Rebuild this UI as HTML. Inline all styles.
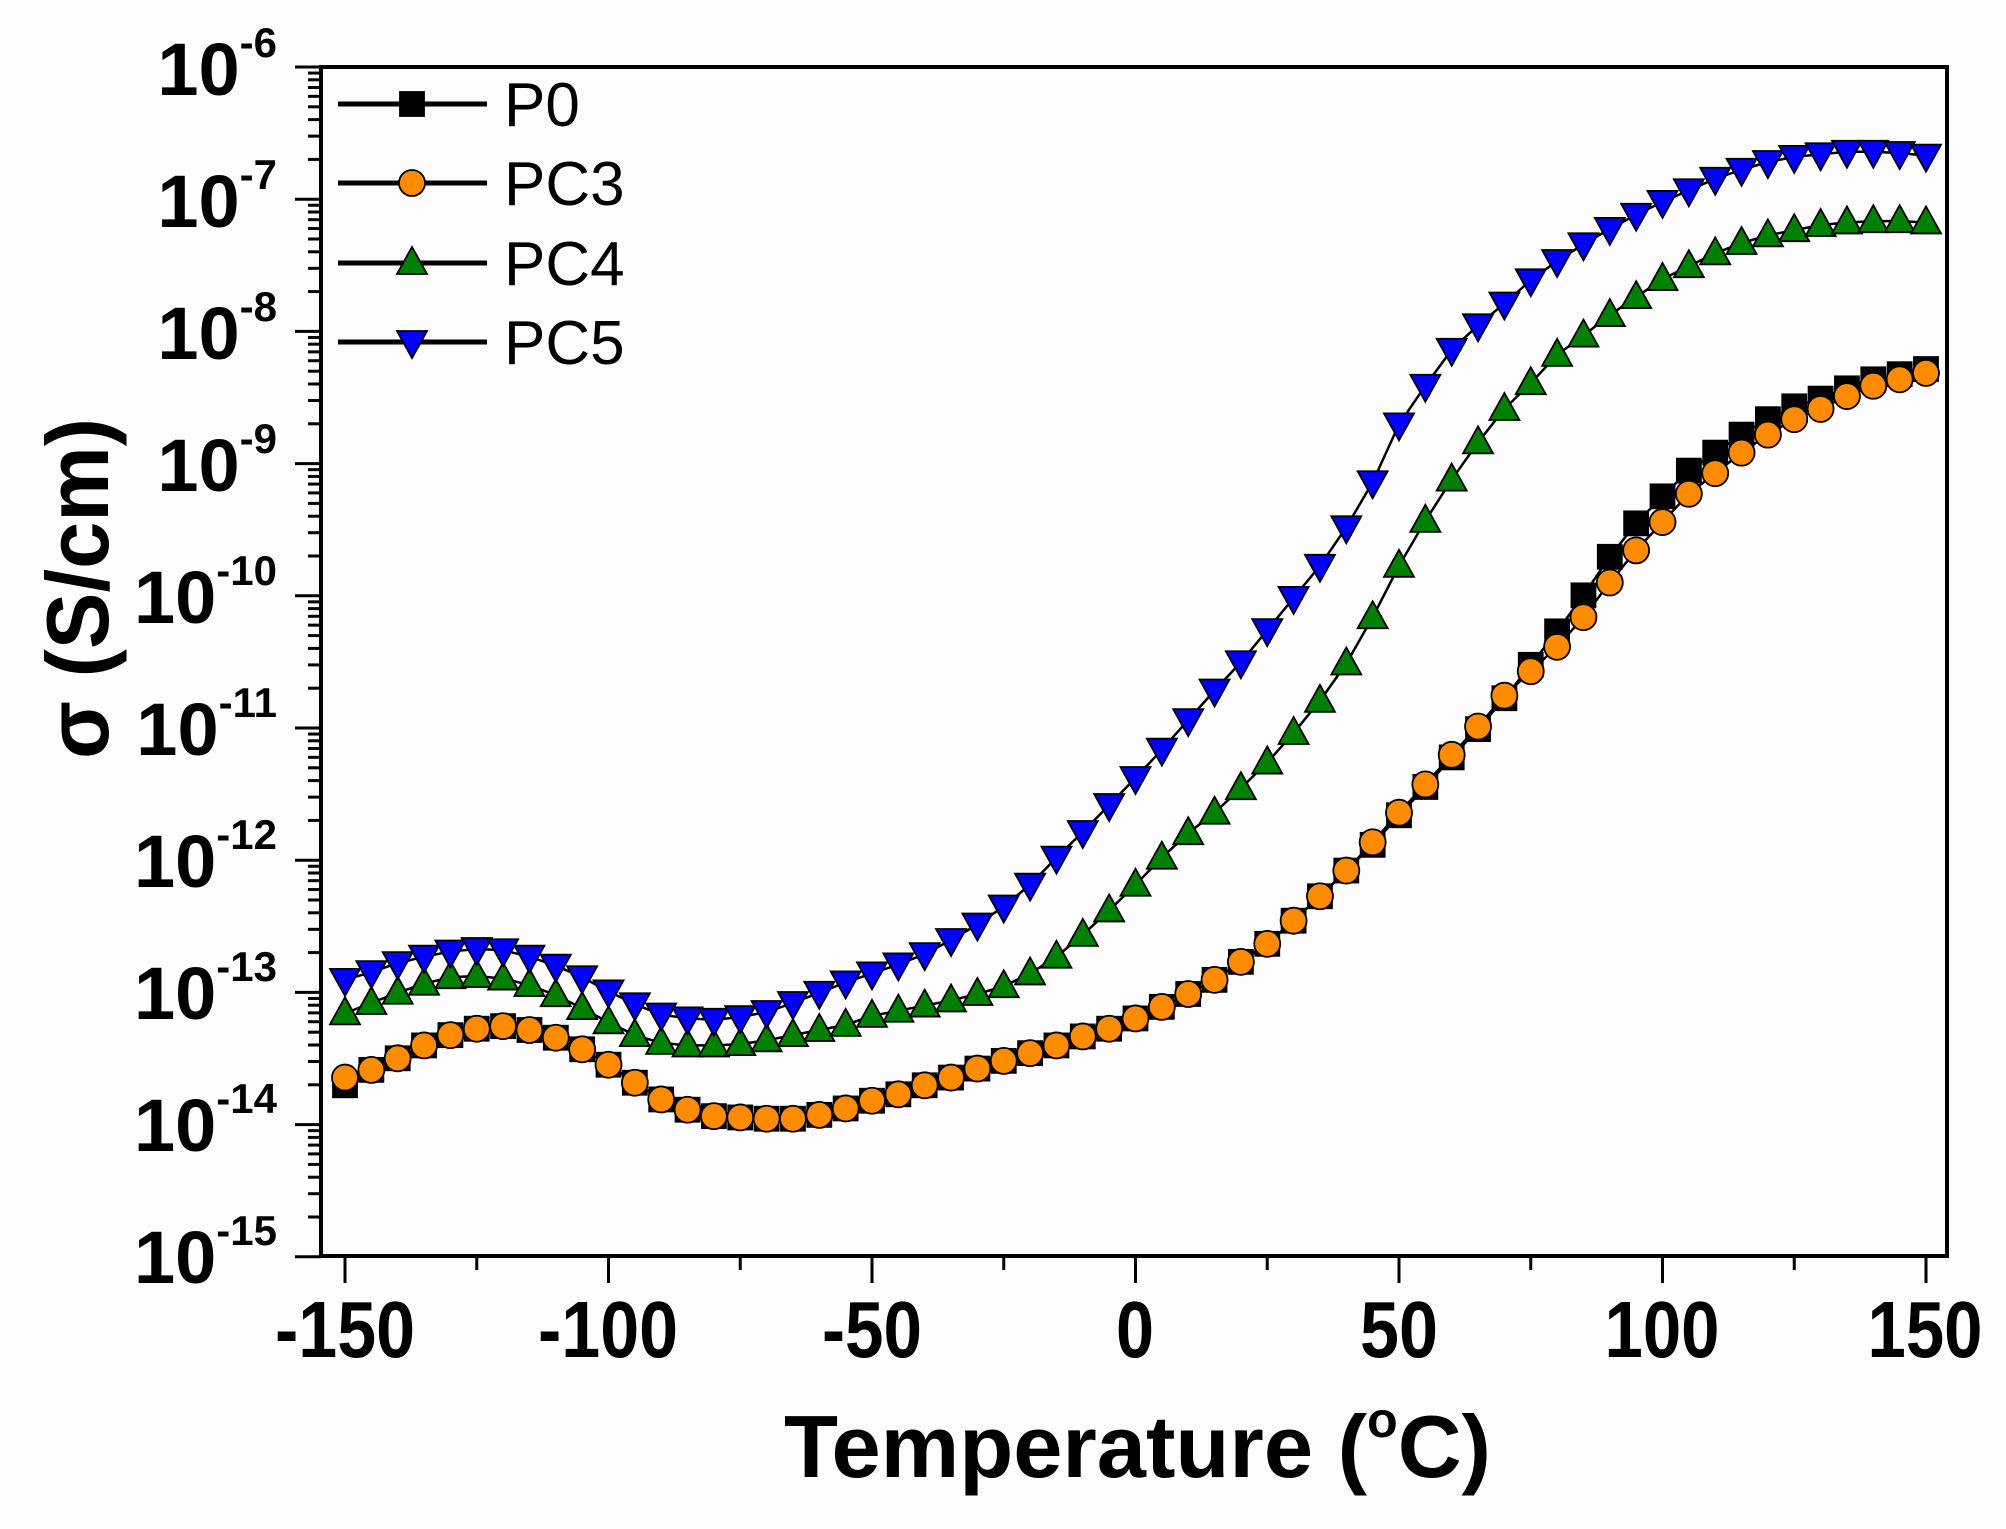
<!DOCTYPE html>
<html><head><meta charset="utf-8"><style>
html,body{margin:0;padding:0;background:#fdfdfd;}
svg{display:block;font-family:"Liberation Sans",Arial,sans-serif;}
</style></head><body>
<svg id="s" width="2006" height="1529" viewBox="0 0 2006 1529" xmlns="http://www.w3.org/2000/svg">
<rect width="2006" height="1529" fill="#fdfdfd"/>
<g id="ticks" stroke="#000" stroke-width="3"></g>
<g id="data"></g>
<rect x="321" y="67" width="1626" height="1189" fill="none" stroke="#000" stroke-width="4"/>
<g font-weight="bold" fill="#000" text-anchor="end">
<text x="277" y="95" font-size="74">10<tspan dy="-38" font-size="42">-6</tspan></text>
<text x="277" y="227" font-size="74">10<tspan dy="-38" font-size="42">-7</tspan></text>
<text x="277" y="359" font-size="74">10<tspan dy="-38" font-size="42">-8</tspan></text>
<text x="277" y="491" font-size="74">10<tspan dy="-38" font-size="42">-9</tspan></text>
<text x="277" y="623" font-size="74">10<tspan dy="-38" font-size="42">-10</tspan></text>
<text x="277" y="755" font-size="74">10<tspan dy="-38" font-size="42">-11</tspan></text>
<text x="277" y="887" font-size="74">10<tspan dy="-38" font-size="42">-12</tspan></text>
<text x="277" y="1019" font-size="74">10<tspan dy="-38" font-size="42">-13</tspan></text>
<text x="277" y="1151" font-size="74">10<tspan dy="-38" font-size="42">-14</tspan></text>
<text x="277" y="1283" font-size="74">10<tspan dy="-38" font-size="42">-15</tspan></text>
</g>
<g font-weight="bold" fill="#000" text-anchor="middle" font-size="80">
<text x="345" y="1357" textLength="140" lengthAdjust="spacingAndGlyphs">-150</text>
<text x="608" y="1357" textLength="140" lengthAdjust="spacingAndGlyphs">-100</text>
<text x="872" y="1357" textLength="100" lengthAdjust="spacingAndGlyphs">-50</text>
<text x="1135" y="1357" textLength="38" lengthAdjust="spacingAndGlyphs">0</text>
<text x="1399" y="1357" textLength="78" lengthAdjust="spacingAndGlyphs">50</text>
<text x="1662" y="1357" textLength="115" lengthAdjust="spacingAndGlyphs">100</text>
<text x="1925" y="1357" textLength="115" lengthAdjust="spacingAndGlyphs">150</text>
</g>
<text x="784" y="1477" font-size="88" font-weight="bold" textLength="707" lengthAdjust="spacingAndGlyphs">Temperature (<tspan dy="-40" font-size="50">o</tspan><tspan dy="40">C)</tspan></text>
<text transform="translate(108,759) rotate(-90)" font-size="88" font-weight="bold" textLength="341" lengthAdjust="spacingAndGlyphs">σ (S/cm)</text>
<g id="legend"></g>
<g font-size="62" fill="#000">
<text x="504" y="126">P0</text>
<text x="504" y="205">PC3</text>
<text x="504" y="285">PC4</text>
<text x="504" y="364">PC5</text>
</g>
</svg>
<script>
(function(){
const NS="http://www.w3.org/2000/svg";
function el(p,t,a){const e=document.createElementNS(NS,t);for(const k in a)e.setAttribute(k,a[k]);p.appendChild(e);return e;}
const tk=document.getElementById('ticks');
const y0=67,dec=132.2;
for(let d=0;d<9;d++){for(let m=1;m<=9;m++){const y=y0+dec*(d+1)-dec*Math.log10(m);
 if(m==1){el(tk,'line',{x1:295,x2:321,y1:y,y2:y});}else el(tk,'line',{x1:308,x2:321,y1:y,y2:y});}}
el(tk,'line',{x1:295,x2:321,y1:y0,y2:y0});
const X=T=>345+5.27*(T+150);
for(let T=-150;T<=150;T+=25){const maj=T%50==0;el(tk,'line',{x1:X(T),x2:X(T),y1:1256,y2:maj?1283:1270});}
const s=1.2859;
const T=[];for(let t=-150;t<=150;t+=5)T.push(t);
const pc3=[838,832,823,813,805,800,798,801,807,816,828,842,855,863,868,869,870,870,867,862,856,851,844,838,831,825,819,813,806,800,792,783,773,762,748,734,716,697,677,655,632,610,587,565,541,522,503,480,453,428,406,384,368,352,338,326,318,308,300,295,290];
const p0=pc3.map((v,i)=>{const t=T[i];if(t==-150)return 844;if(t>=75){const d=[5,12,17,20,21,20,18,16,14,12,10,8,6,5,4,3][(t-75)/5]||3;return v-d;}return v+(t>40&&t<75?2:0);});
const pc4=[788,780,772,765,760,759,761,766,774,784,795,805,811,813,813,812,809,805,801,797,
 790,786,782,778,773,767,757,744,727,708,
 688,667,648,632,613,593,570,545,516,480,440,405,373,344,318,298,276,261,245,231,217,207,197,189,183,179,175,173,172,172,173];
const pc5=[762,756,749,744,740,738,739,744,751,760,771,781,789,792,793,791,787,780,772,764,
 757,750,742,731,719,705,688,667,647,626,
 605,583,560,537,515,490,465,440,410,375,330,300,272,253,236,218,203,190,178,167,157,148,139,132,126,122,120,118,118,119,121];
const dg=document.getElementById('data');
function marker(g,x,y,kind,fill){
 const a={fill:fill,stroke:'#000','stroke-width':1.8};
 if(kind=='sq')el(g,'rect',Object.assign({x:x-12,y:y-12,width:24,height:24},a));
 else if(kind=='c')el(g,'circle',Object.assign({cx:x,cy:y,r:13},a));
 else if(kind=='up')el(g,'polygon',Object.assign({points:`${x-15},${y+11} ${x+15},${y+11} ${x},${y-16}`},a));
 else el(g,'polygon',Object.assign({points:`${x-15},${y-11} ${x+15},${y-11} ${x},${y+16}`},a));
}
function series(arr,kind,fill){
 const pts=arr.map((v,i)=>[X(T[i]),v*s]);
 el(dg,'polyline',{points:pts.map(p=>p.join(',')).join(' '),fill:'none',stroke:'#000','stroke-width':2.5});
 pts.forEach(p=>marker(dg,p[0],p[1],kind,fill));
}
series(p0,'sq','#000');
series(pc3,'c','#ff8c00');
series(pc4,'up','#008000');
series(pc5,'dn','#0000ff');
const lg=document.getElementById('legend');
[[104,'sq','#000'],[183,'c','#ff8c00'],[263,'up','#008000'],[342,'dn','#0000ff']].forEach(r=>{
 el(lg,'line',{x1:338,x2:487,y1:r[0],y2:r[0],stroke:'#000','stroke-width':5});
 marker(lg,412,r[0],r[1],r[2]);
});
})();
</script>
</body></html>
